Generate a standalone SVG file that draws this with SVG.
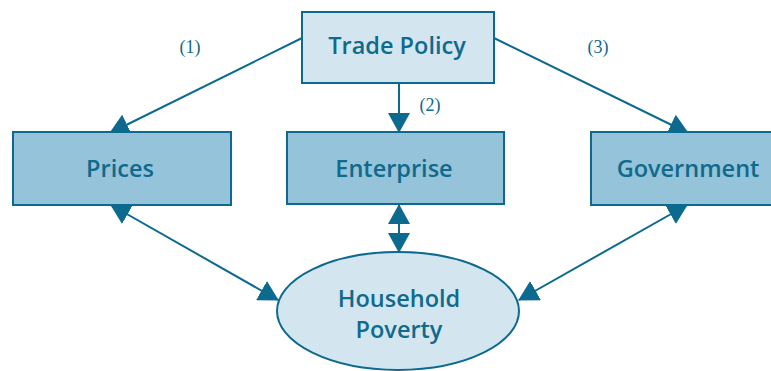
<svg xmlns="http://www.w3.org/2000/svg" width="771" height="371" viewBox="0 0 771 371">
  <style>
    .box { stroke: #0c6a8e; stroke-width: 2; }
    .mid { fill: #95c3d9; }
    .light { fill: #d3e6f0; }
    .label { font-family: "Open Sans", "Noto Sans", sans-serif; font-weight: 600; font-size: 23.5px; fill: #0f6a8c; text-anchor: middle; }
    .num { font-family: "Liberation Serif", serif; font-size: 18px; fill: #0f6a8c; text-anchor: middle; }
    .link { stroke: #0c6a8e; stroke-width: 2; fill: none; }
  </style>
  <defs>
    <marker id="head" viewBox="0 0 20 22" refX="19" refY="11" markerWidth="20" markerHeight="22" markerUnits="userSpaceOnUse" orient="auto-start-reverse">
      <path d="M0,0 L20,11 L0,22 z" fill="#0c6a8e"/>
    </marker>
  </defs>
  <rect width="771" height="371" fill="#ffffff"/>

  <!-- connectors -->
  <g id="connectors">
    <line class="link" x1="302" y1="38" x2="110" y2="133" marker-end="url(#head)"/>
    <line class="link" x1="494" y1="38" x2="688" y2="133" marker-end="url(#head)"/>
    <line class="link" x1="399" y1="83" x2="399" y2="132" marker-end="url(#head)"/>
    <line class="link" x1="111" y1="205" x2="278" y2="300" marker-start="url(#head)" marker-end="url(#head)"/>
    <line class="link" x1="399" y1="205" x2="399" y2="252" marker-start="url(#head)" marker-end="url(#head)"/>
    <line class="link" x1="687" y1="205" x2="519" y2="300" marker-start="url(#head)" marker-end="url(#head)"/>
    <text class="num" x="190" y="53">(1)</text>
    <text class="num" x="430" y="111">(2)</text>
    <text class="num" x="598" y="53">(3)</text>
  </g>

  <g id="trade-policy">
    <rect class="box light" x="302" y="12" width="192" height="71"/>
    <text class="label" x="397" y="54">Trade Policy</text>
  </g>
  <g id="prices">
    <rect class="box mid" x="13" y="132" width="218" height="73"/>
    <text class="label" x="120" y="177">Prices</text>
  </g>
  <g id="enterprise">
    <rect class="box mid" x="287" y="132" width="217" height="72"/>
    <text class="label" x="394" y="177">Enterprise</text>
  </g>
  <g id="government">
    <rect class="box mid" x="591" y="132" width="185" height="73"/>
    <text class="label" x="688" y="177">Government</text>
  </g>
  <g id="household-poverty">
    <ellipse class="box light" cx="398" cy="311" rx="121" ry="59"/>
    <text class="label" x="399" y="307">Household</text>
    <text class="label" x="399" y="338">Poverty</text>
  </g>
</svg>
